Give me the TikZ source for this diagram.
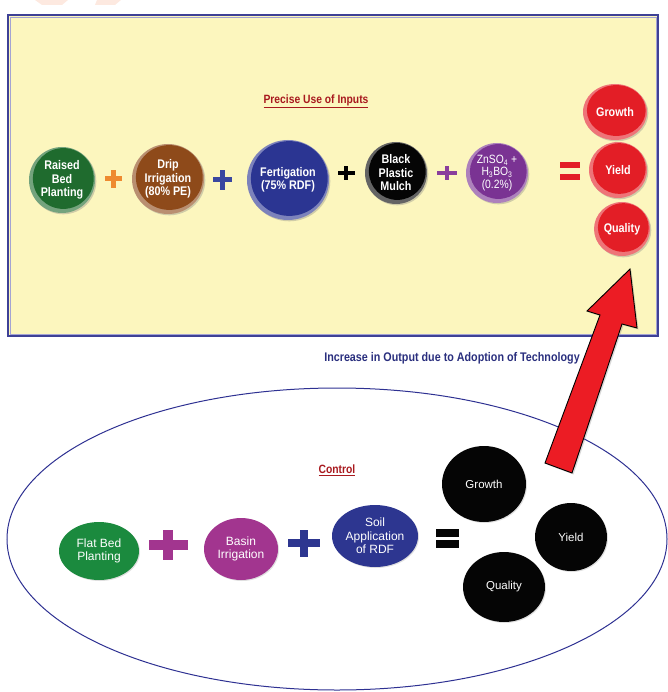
\documentclass[tikz,border=0pt]{standalone}
\usepackage{fontspec}
\setmainfont{Liberation Sans}
\newfontfamily\narrow{Liberation Sans}[FakeStretch=0.86]
\usetikzlibrary{shapes.geometric,shadows}
\definecolor{boxfill}{HTML}{FCF6BE}
\definecolor{boxline}{HTML}{3E4196}
\definecolor{boxinner}{HTML}{A3A3D3}
\definecolor{titlered}{HTML}{A8191E}
\definecolor{navytext}{HTML}{2A2F7E}
\definecolor{ellline}{HTML}{2E3192}
\definecolor{cgreen}{HTML}{1F6B2E}
\definecolor{cbrown}{HTML}{8E4A1A}
\definecolor{cblue}{HTML}{2B3592}
\definecolor{cblack}{HTML}{050505}
\definecolor{cpurple}{HTML}{7A3393}
\definecolor{cred}{HTML}{E31E26}
\definecolor{corange}{HTML}{EE8A2F}
\definecolor{pblue}{HTML}{3A47A0}
\definecolor{ppurple}{HTML}{8A3E9C}
\definecolor{fgreen}{HTML}{1B8A3E}
\definecolor{fmagenta}{HTML}{A2358F}
\definecolor{fblue}{HTML}{2D3690}
\definecolor{arrowred}{HTML}{EC1C24}
\definecolor{wmark}{HTML}{FDE9E0}
\newcommand\plusshape[6]{%
  \fill[#6] ({#1-#3/2},{#2-#5/2}) rectangle ({#1+#3/2},{#2+#5/2});
  \fill[#6] ({#1-#5/2},{#2-#4/2}) rectangle ({#1+#5/2},{#2+#4/2});}
\newcommand\equalshape[6]{% x, y1, y2, w, t, color
  \fill[#6] ({#1-#4/2},{#2-#5/2}) rectangle ({#1+#4/2},{#2+#5/2});
  \fill[#6] ({#1-#4/2},{#3-#5/2}) rectangle ({#1+#4/2},{#3+#5/2});}
\begin{document}
\begin{tikzpicture}[x=1pt,y=-1pt,
  ball/.style n args={3}{ellipse, inner sep=0pt, minimum width=2*#2, minimum height=2*#3,
    fill=#1!62!white,
    path picture={\fill[#1] ([xshift=1.3pt,yshift=1.5pt]path picture bounding box.center)
      ellipse[x radius=#2-2.6pt, y radius=#3-2.6pt];},
    drop shadow={shadow xshift=1.3pt,shadow yshift=-1.3pt,opacity=.35},
    text=white, align=center, font=\narrow\bfseries\fontsize{12.5}{13.5}\selectfont},
  flat/.style n args={3}{ellipse, inner sep=0pt, minimum width=2*#2, minimum height=2*#3,
    fill=#1, drop shadow={shadow xshift=1pt,shadow yshift=-1pt,opacity=.25},
    text=white, align=center, font=\fontsize{12}{13.5}\selectfont},
  heading/.style={text=titlered, font=\narrow\bfseries\fontsize{12}{13}\selectfont},
]
\useasboundingbox (0,0) rectangle (667,692);
% faint watermark fragment
\fill[wmark] (35,0) -- (68,0) -- (62,5) -- (42,5) -- cycle;
\fill[wmark] (97,0) -- (121,0) -- (115,5) -- (95,5) -- cycle;
% yellow panel
\draw[fill=boxfill, draw=boxline, line width=1.8pt] (8,15) rectangle (658,336);
\draw[boxinner, line width=0.7pt] (10,17) rectangle (656,334);
\node[heading] (title1) at (316,101) {\underline{Precise Use of Inputs}};
% top row
\node[ball={cgreen}{33pt}{33pt}] (raised) at (62,180) {Raised\\Bed\\Planting};
\plusshape{113}{179}{17}{18}{5}{corange}
\node[ball={cbrown}{36pt}{35pt}] (drip) at (168,179) {Drip\\Irrigation\\(80\% PE)};
\plusshape{222}{180}{19}{20}{5}{pblue}
\node[ball={cblue}{41pt}{40pt}] (fert) at (288,180) {Fertigation\\(75\% RDF)};
\plusshape{346}{173}{17}{14}{3.5}{black}
\node[ball={cblack}{31pt}{31pt}] (mulch) at (396,173) {Black\\Plastic\\Mulch};
\plusshape{447}{173}{20}{14}{3.5}{ppurple}
\node[ball={cpurple}{31pt}{30pt}, font=\narrow\fontsize{12}{12.5}\selectfont] (zn) at (497,173)
  {ZnSO\textsubscript{4} +\\H\textsubscript{3}BO\textsubscript{3}\\(0.2\%)};
\equalshape{570}{165}{177}{20}{6}{cred}
\node[ball={cred}{32pt}{28pt}] (growth1) at (615,112) {Growth};
\node[ball={cred}{29pt}{28pt}] (yield1) at (618,170) {Yield};
\node[ball={cred}{28pt}{27pt}] (quality1) at (622,229) {Quality};
% caption
\node[text=navytext, font=\narrow\bfseries\fontsize{12.5}{14}\selectfont] (increase) at (452,358)
  {Increase in Output due to Adoption of Technology};
% control ellipse
\draw[ellline, line width=1pt] (337,539) ellipse[x radius=330pt, y radius=151pt];
\node[heading] (title2) at (337,470) {\underline{Control}};
\node[flat={fgreen}{40pt}{29pt}] (flatbed) at (99,551) {Flat Bed\\Planting};
\plusshape{168}{545}{39}{30}{10}{fmagenta}
\node[flat={fmagenta}{37pt}{31pt}] (basin) at (241,549) {Basin\\Irrigation};
\plusshape{304}{543}{32}{27}{8}{fblue}
\node[flat={fblue}{43pt}{31pt}] (soil) at (375,536) {Soil\\Application\\of RDF};
\equalshape{447}{532.5}{543.5}{23}{8}{cblack}
\node[flat={cblack}{42pt}{38pt}, font=\fontsize{11.5}{13}\selectfont] (growth2) at (484,484) {Growth};
\node[flat={cblack}{36pt}{34pt}, font=\fontsize{11.5}{13}\selectfont] (yield2) at (571,537) {Yield};
\node[flat={cblack}{41pt}{35pt}, font=\fontsize{11.5}{13}\selectfont] (quality2) at (504,587) {Quality};
% big red arrow
\fill[arrowred, draw=black, line width=0.9pt, line join=miter,
  drop shadow={shadow xshift=1.5pt,shadow yshift=-1.5pt,opacity=.3}]
  (630,269) -- (637,328) -- (622,324) -- (572,473) -- (545,463) -- (600,315) -- (587,311) -- cycle;
\end{tikzpicture}
\end{document}
